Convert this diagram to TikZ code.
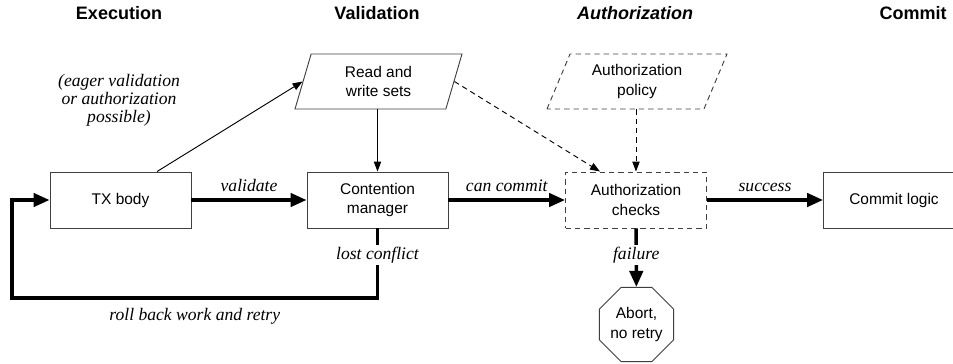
\documentclass[tikz,border=0pt]{standalone}
\usepackage{fontspec}
\setmainfont{Liberation Sans}
\newfontfamily\serifit{Liberation Serif}
\usetikzlibrary{shapes.geometric,arrows.meta}
\begin{document}
\begin{tikzpicture}[x=0.75pt,y=-0.75pt,
  nodefont/.style={font=\fontsize{11.6}{14.3}\selectfont},
  box/.style={draw=black!75, line width=0.7pt, minimum width=105.75pt, minimum height=42pt, align=center, inner sep=2pt, nodefont},
  dbox/.style={box, dash pattern=on 4pt off 3pt},
  para/.style={trapezium, trapezium stretches body, draw=black!75, line width=0.7pt, minimum height=41.25pt, align=center, inner sep=1pt, nodefont},
  head/.style={font=\fontsize{13.5}{16}\selectfont\bfseries},
  lab/.style={font=\fontsize{13.2}{13.4}\selectfont\serifit\itshape},
  bigarrow/.style={line width=2.6pt, -{Triangle[length=12pt,width=10pt]}},
  thinarrow/.style={line width=0.7pt, -{Triangle[length=7.5pt,width=5.5pt]}},
  dasharrow/.style={thinarrow, dash pattern=on 4pt off 3pt}
]
\useasboundingbox (0,0) rectangle (953,364);

% headers
\node[head] (h1) at (119,13) {Execution};
\node[head] (h2) at (377,13) {Validation};
\node[head, font=\fontsize{13.5}{16}\selectfont\bfseries\itshape] (h3) at (635,13) {Authorization};
\node[head] (h4) at (913,13) {Commit};

% note
\node[lab, align=center] (note) at (119,100) {(eager validation\\or authorization\\possible)};

% main nodes
\node[box] (tx) at (120.5,200) {TX body};
\node[box] (cm) at (377.5,200) {Contention\\manager};
\node[dbox] (ac) at (636,200) {Authorization\\checks};
\node[box] (cl) at (894,200) {Commit logic};

\node[para, trapezium left angle=64, trapezium right angle=116, minimum width=125.25pt] (rw) at (378.5,81.5) {Read and\\write sets};
\node[para, dash pattern=on 4pt off 3pt, trapezium left angle=57.5, trapezium right angle=122.5, minimum width=135pt] (ap) at (637,81.5) {Authorization\\policy};

\node[draw=black!75, line width=0.7pt, regular polygon, regular polygon sides=8, minimum size=59pt, inner sep=0pt, align=center, nodefont] (ab) at (636.5,324.5) {Abort,\\no retry};

% thin connectors
\draw[thinarrow] ([xshift=27.4pt]tx.north) -- (rw.west);
\draw[thinarrow] (rw.south -| cm.north) -- (cm.north);
\draw[dasharrow] (rw.east) -- ([xshift=-27pt]ac.north);
\draw[dasharrow] (ap.south -| ac.north) -- (ac.north);

% thick connectors
\draw[bigarrow] (tx) -- node[lab, above=1.5pt] {validate} (cm);
\draw[bigarrow] (cm) -- node[lab, above=1.5pt] {can commit} (ac);
\draw[bigarrow] (ac) -- node[lab, above=1.5pt] {success} (cl);
\draw[bigarrow] (ac) -- node[lab, fill=white, inner sep=1.5pt, pos=0.46] {failure} (ab);

\coordinate (rb) at (12,298);
\draw[bigarrow, line join=miter] (cm.south) -- node[lab, fill=white, inner sep=1.5pt, pos=0.38] {lost conflict} (cm.south |- rb) -- node[lab, below=3pt] {roll back work and retry} (rb) |- (tx.west);
\end{tikzpicture}
\end{document}
